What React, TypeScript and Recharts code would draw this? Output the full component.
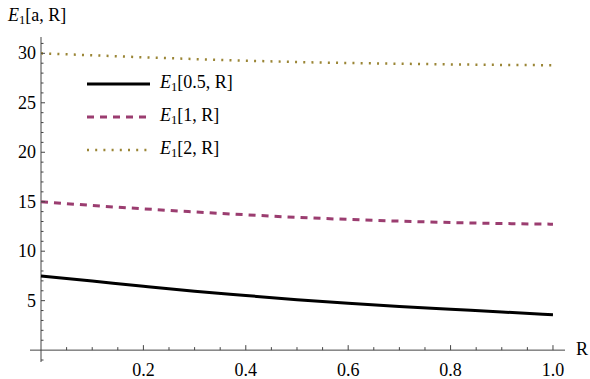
import { LineChart, Line, XAxis, YAxis, ReferenceLine, ReferenceDot, Legend } from 'recharts';

// valores
const R_VALUES = [0, 0.1, 0.2, 0.3, 0.4, 0.5, 0.6, 0.7, 0.8, 0.9, 1.0];
const E_A05 = [7.5, 6.98, 6.45, 5.95, 5.52, 5.1, 4.73, 4.41, 4.13, 3.86, 3.57];
const E_A1 = [15.0, 14.62, 14.28, 13.97, 13.68, 13.42, 13.21, 13.04, 12.9, 12.8, 12.73];
const E_A2 = [30.0, 29.8, 29.6, 29.42, 29.26, 29.12, 29.02, 28.95, 28.88, 28.83, 28.8];

const X_TICKS = [0.2, 0.4, 0.6, 0.8, 1.0];
const X_MINOR = Array.from({ length: 20 }, (_, i) => +(0.05 * (i + 1)).toFixed(2)).filter((v) => !X_TICKS.includes(v));
const Y_TICKS = [5, 10, 15, 20, 25, 30];
const Y_MINOR = Array.from({ length: 33 }, (_, i) => i - 1).filter((v) => v !== 0 && v % 5 !== 0);

const SERIES = [
  { key: 'a05', label: '0.5', color: '#000000', dash: undefined as string | undefined, width: 3 },
  { key: 'a1', label: '1', color: '#9b3d70', dash: '7 6', width: 3 },
  { key: 'a2', label: '2', color: '#9a8535', dash: '2 6.2', width: 2.5 },
];

const datos = R_VALUES.map((r, i) => ({ r, a05: E_A05[i], a1: E_A1[i], a2: E_A2[i] }));

const FONT = 'Liberation Serif';
const AXIS = '#444444';

const E1 = ({ arg }: { arg: string }) => (
  <span>
    <i>E</i>
    <sub style={{ fontSize: '0.7em', verticalAlign: '-0.25em' }}>1</sub>[{arg}, R]
  </span>
);

const tickX = (len: number) => (props: any) => (
  <line x1={props.cx} y1={props.cy} x2={props.cx} y2={props.cy - len} stroke={AXIS} strokeWidth={1} />
);
const tickY = (len: number) => (props: any) => (
  <line x1={props.cx} y1={props.cy} x2={props.cx + len} y2={props.cy} stroke={AXIS} strokeWidth={1} />
);

const LeyendaCustom = () => (
  <div style={{ fontFamily: FONT, fontSize: 18, color: '#000' }}>
    {SERIES.map((s) => (
      <div key={s.key} style={{ display: 'flex', alignItems: 'center', height: 33 }}>
        <svg width={70} height={10}>
          <line x1={0} y1={5} x2={63} y2={5} stroke={s.color} strokeWidth={s.width} strokeDasharray={s.dash} />
        </svg>
        <span style={{ marginLeft: 3 }}>
          <E1 arg={s.label} />
        </span>
      </div>
    ))}
  </div>
);

export default function App() {
  return (
    <div style={{ position: 'absolute', left: 0, top: 0, width: 590, height: 379, background: '#fff' }}>
      <div style={{ position: 'absolute', left: 8, top: 5, fontFamily: FONT, fontSize: 18 }}>
        <E1 arg="a" />
      </div>
      <div style={{ position: 'absolute', left: 576, top: 339, fontFamily: FONT, fontSize: 18 }}>R</div>
      <LineChart width={590} height={379} data={datos} margin={{ top: 37, left: 0, right: 25, bottom: 0 }}>
        <XAxis
          dataKey="r"
          type="number"
          domain={[-0.0215, 1.0235]}
          ticks={X_TICKS}
          interval={0}
          tickFormatter={(v) => Number(v).toFixed(1)}
          axisLine={false}
          tickLine={false}
          tickSize={0}
          tickMargin={1}
          height={17}
          tick={{ fill: '#000', fontFamily: FONT, fontSize: 18 }}
        />
        <YAxis
          type="number"
          domain={[-1.2, 31.65]}
          ticks={Y_TICKS}
          interval={0}
          axisLine={false}
          tickLine={false}
          tickSize={0}
          tickMargin={0}
          width={30}
          tick={(p: any) => (
            <text x={p.x + 6} y={p.y} textAnchor="end" dominantBaseline="central" fontFamily={FONT} fontSize={18} fill="#000">
              {p.payload.value}
            </text>
          )}
        />
        <ReferenceLine x={0} stroke={AXIS} strokeWidth={1} />
        <ReferenceLine y={0} stroke={AXIS} strokeWidth={1} />
        {X_TICKS.map((t) => (
          <ReferenceDot key={'xm' + t} x={t} y={0} shape={tickX(5)} />
        ))}
        {X_MINOR.map((t) => (
          <ReferenceDot key={'xn' + t} x={t} y={0} shape={tickX(3)} />
        ))}
        {Y_TICKS.map((t) => (
          <ReferenceDot key={'ym' + t} x={0} y={t} shape={tickY(4)} />
        ))}
        {Y_MINOR.map((t) => (
          <ReferenceDot key={'yn' + t} x={0} y={t} shape={tickY(2.5)} />
        ))}
        {SERIES.map((s) => (
          <Line
            key={s.key}
            type="monotone"
            dataKey={s.key}
            stroke={s.color}
            strokeWidth={s.width}
            strokeDasharray={s.dash}
            dot={false}
            isAnimationActive={false}
          />
        ))}
        <Legend
          layout="vertical"
          align="center"
          verticalAlign="middle"
          content={<LeyendaCustom />}
          wrapperStyle={{ position: 'absolute', left: 87, top: 67, width: 200 }}
        />
      </LineChart>
    </div>
  );
}
